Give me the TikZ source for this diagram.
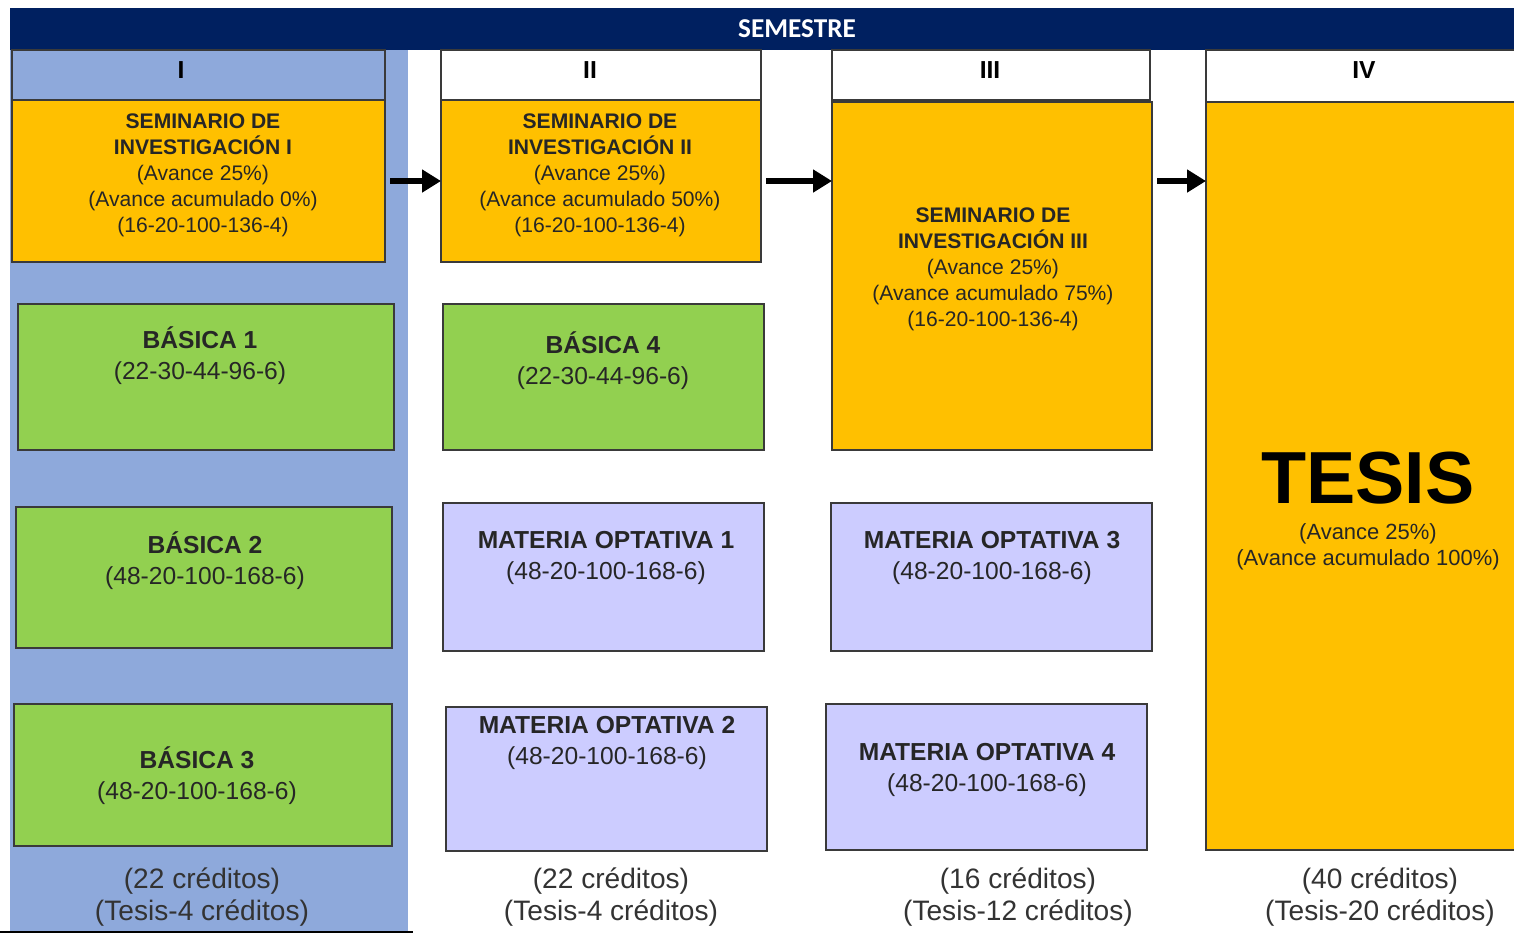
\documentclass[tikz,border=0pt]{standalone}
\usepackage{fontspec}
\setmainfont{Liberation Sans}
\newfontfamily\barfont{Carlito}
\usetikzlibrary{arrows.meta, positioning}
\definecolor{navy}{HTML}{002060}
\definecolor{colblue}{HTML}{8EA9DB}
\definecolor{semorange}{HTML}{FFC000}
\definecolor{basgreen}{HTML}{92D050}
\definecolor{optlav}{HTML}{CCCCFF}
\definecolor{edge}{HTML}{3A3A3A}

\begin{document}
\begin{tikzpicture}[
    x=0.2mm, y=-0.2mm,
    sz/.style 2 args={minimum width=#1*0.2mm, minimum height=#2*0.2mm},
    cell/.style={draw=edge, line width=0.9pt, inner sep=0pt, outer sep=0pt, anchor=north west},
    hdr/.style={cell, fill=white},
    sem/.style={cell, fill=semorange},
    bas/.style={cell, fill=basgreen},
    opt/.style={cell, fill=optlav},
    semtxt/.style={align=center, font=\fontsize{12}{14.8}\selectfont, text=black!85},
    boxtxt/.style={align=center, font=\fontsize{14}{17.5}\selectfont, text=black!85},
    numtxt/.style={font=\fontsize{14}{16}\selectfont\bfseries},
    credtxt/.style={align=center, font=\fontsize{16}{18.7}\selectfont, text=black!80},
    arr/.style={-{Triangle[length=3.8mm, width=4.4mm]}, line width=1.1mm, black, shorten <=1mm}
]
\useasboundingbox (0,0) rectangle (1514,933);

% ===== Fondo y barra de semestres =====
\node[fill=colblue, sz={398}{883}, anchor=north west, inner sep=0pt] (col1) at (10,50) {};
\draw[line width=0.6pt] (0,932) -- (413,932);
\node[fill=navy, sz={1504}{42}, anchor=north west, inner sep=0pt] (bar) at (10,8) {};
\node[font=\barfont\fontsize{15.5}{17}\selectfont\bfseries, text=white] (barlbl) at (797,29) {SEMESTRE};

% ===== Encabezados =====
\node[cell, fill=colblue, sz={373}{50}] (h1) at (12,50) {};
\node[hdr, sz={320}{50}] (h2) at (441,50) {};
\node[hdr, sz={318}{50}] (h3) at (832,50) {};
\node[hdr, sz={320}{52}] (h4) at (1206,50) {};
\node[numtxt] (n1) at (181,70) {I};
\node[numtxt] (n2) at (590,70) {II};
\node[numtxt] (n3) at (990,70) {III};
\node[numtxt] (n4) at (1364,70) {IV};

% ===== Seminarios y tesis =====
\node[sem, sz={373}{162}] (s1) at (12,100) {};
\node[sem, sz={320}{162}] (s2) at (441,100) {};
\node[sem, sz={320}{348}] (s3) at (832,102) {};
\node[sem, sz={320}{748}] (tesis) at (1206,102) {};

\node[semtxt] (s1txt) at (203,175) {\textbf{SEMINARIO DE}\\\textbf{INVESTIGACIÓN I}\\(Avance 25\%)\\(Avance acumulado 0\%)\\(16-20-100-136-4)};
\node[semtxt] (s2txt) at (600,175) {\textbf{SEMINARIO DE}\\\textbf{INVESTIGACIÓN II}\\(Avance 25\%)\\(Avance acumulado 50\%)\\(16-20-100-136-4)};
\node[semtxt] (s3txt) at (993,269) {\textbf{SEMINARIO DE}\\\textbf{INVESTIGACIÓN III}\\(Avance 25\%)\\(Avance acumulado 75\%)\\(16-20-100-136-4)};
\node[font=\fontsize{42}{46}\selectfont\bfseries] (tesislbl) at (1368,478) {TESIS};
\node[align=center, font=\fontsize{12.5}{14.8}\selectfont, text=black!85] (tesistxt) at (1368,547) {(Avance 25\%)\\(Avance acumulado 100\%)};

% ===== Básicas =====
\node[bas, sz={376}{146}] (b1) at (18,304) {};
\node[bas, sz={376}{141}] (b2) at (16,507) {};
\node[bas, sz={378}{142}] (b3) at (14,704) {};
\node[bas, sz={321}{146}] (b4) at (443,304) {};
\node[boxtxt] (b1txt) at (200,356) {\textbf{BÁSICA 1}\\(22-30-44-96-6)};
\node[boxtxt] (b2txt) at (205,561) {\textbf{BÁSICA 2}\\(48-20-100-168-6)};
\node[boxtxt] (b3txt) at (197,776) {\textbf{BÁSICA 3}\\(48-20-100-168-6)};
\node[boxtxt] (b4txt) at (603,361) {\textbf{BÁSICA 4}\\(22-30-44-96-6)};

% ===== Optativas =====
\node[opt, sz={321}{148}] (o1) at (443,503) {};
\node[opt, sz={321}{144}] (o2) at (446,707) {};
\node[opt, sz={321}{148}] (o3) at (831,503) {};
\node[opt, sz={321}{146}] (o4) at (826,704) {};
\node[boxtxt] (o1txt) at (606,558) {\textbf{MATERIA OPTATIVA 1}\\(48-20-100-168-6)};
\node[boxtxt] (o2txt) at (607,743) {\textbf{MATERIA OPTATIVA 2}\\(48-20-100-168-6)};
\node[boxtxt] (o3txt) at (992,558) {\textbf{MATERIA OPTATIVA 3}\\(48-20-100-168-6)};
\node[boxtxt] (o4txt) at (987,770) {\textbf{MATERIA OPTATIVA 4}\\(48-20-100-168-6)};

% ===== Créditos =====
\node[credtxt] (c1) at (202,897) {(22 créditos)\\(Tesis-4 créditos)};
\node[credtxt] (c2) at (611,897) {(22 créditos)\\(Tesis-4 créditos)};
\node[credtxt] (c3) at (1018,897) {(16 créditos)\\(Tesis-12 créditos)};
\node[credtxt] (c4) at (1380,897) {(40 créditos)\\(Tesis-20 créditos)};

% ===== Flechas =====
\draw[arr] (s1.east) -- (s2.west);
\draw[arr] (s2.east) -- (s2.east -| s3.west);
\draw[arr] (s3.east |- s2.east) -- (tesis.west |- s2.east);

\end{tikzpicture}
\end{document}
